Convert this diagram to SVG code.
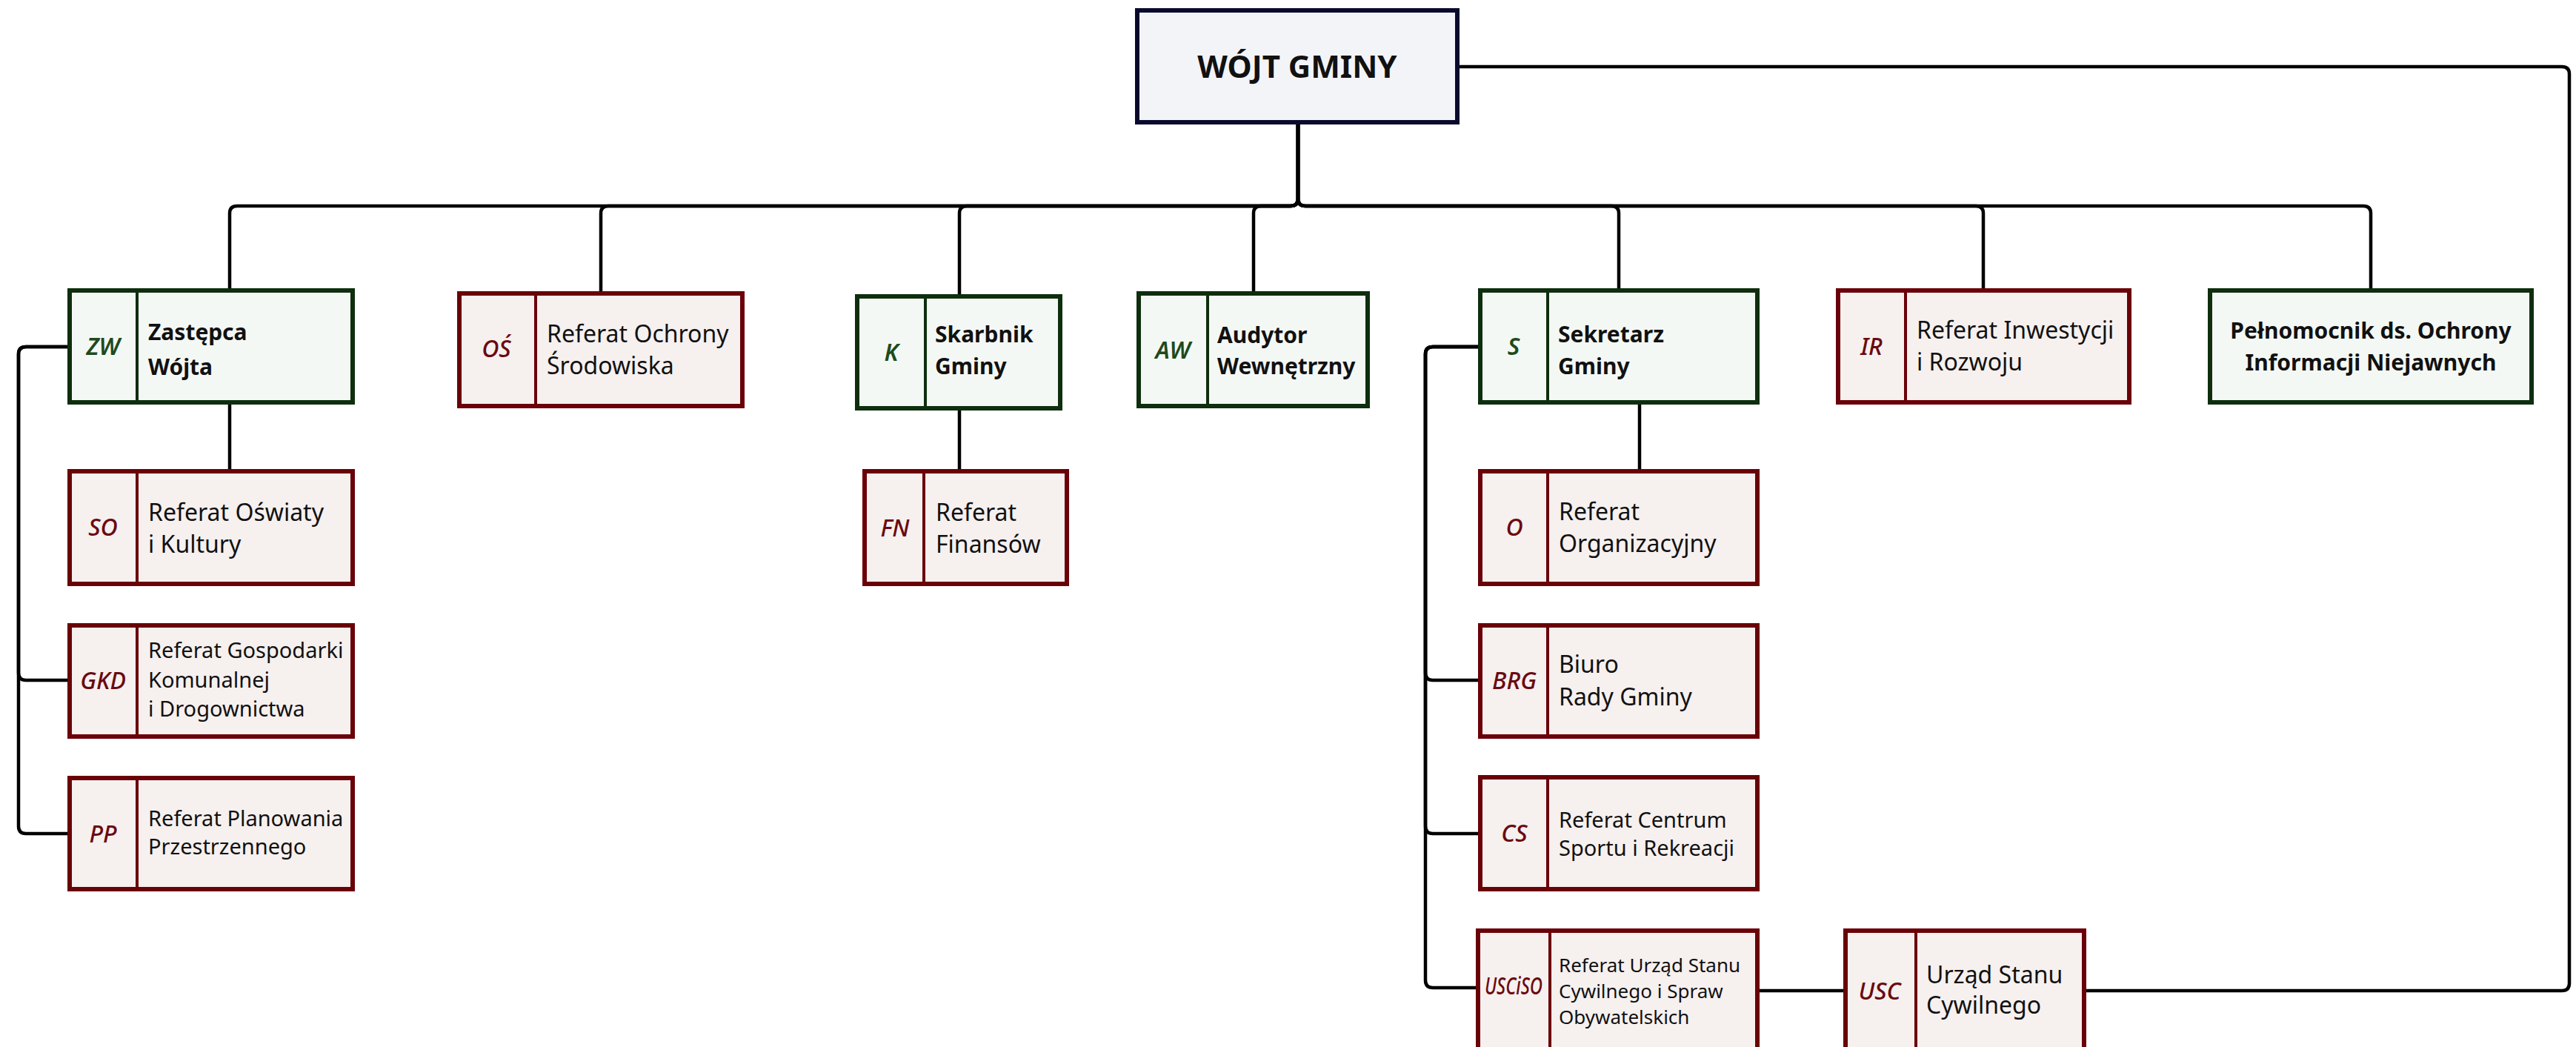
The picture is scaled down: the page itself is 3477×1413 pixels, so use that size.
<svg xmlns="http://www.w3.org/2000/svg" width="3477" height="1413" viewBox="0 0 3477 1413">
<style>
text{font-family:"Noto Sans","Liberation Sans",sans-serif;fill:#111}
.g{fill:#f4f8f4;stroke:#0e2e0e;stroke-width:6}
.r{fill:#f6f0ef;stroke:#6a0008;stroke-width:6}
.gd{stroke:#0e2e0e;stroke-width:4}
.rd{stroke:#6a0008;stroke-width:4}
.ga{fill:#1d4a1d;font-style:italic;font-weight:600;font-size:32px;text-anchor:middle}
.ra{fill:#6a0a10;font-style:italic;font-weight:500;font-size:32px;text-anchor:middle}
.b{font-weight:700;font-size:30px}
.n{font-size:32px}
.s{font-size:29px}
.c{fill:none;stroke:#000;stroke-width:4.5}
</style>
<g id="connectors">
<path class="c" d="M1752 168V268Q1752 278 1742 278H320Q310 278 310 288V389"/>
<path class="c" d="M1752 168V268Q1752 278 1742 278H821Q811 278 811 288V393"/>
<path class="c" d="M1752 168V268Q1752 278 1742 278H1305Q1295 278 1295 288V397"/>
<path class="c" d="M1752 168V268Q1752 278 1742 278H1702Q1692 278 1692 288V393"/>
<path class="c" d="M1752 168V268Q1752 278 1762 278H2175Q2185 278 2185 288V389"/>
<path class="c" d="M1752 168V268Q1752 278 1762 278H2667Q2677 278 2677 288V389"/>
<path class="c" d="M1752 168V268Q1752 278 1762 278H3190Q3200 278 3200 288V389"/>
<path class="c" d="M310 546V633"/>
<path class="c" d="M91 468H35Q25 468 25 478V908Q25 918 35 918H91"/>
<path class="c" d="M91 468H35Q25 468 25 478V1115Q25 1125 35 1125H91"/>
<path class="c" d="M1295 554V633"/>
<path class="c" d="M2213 546V633"/>
<path class="c" d="M1995 468H1934Q1924 468 1924 478V908Q1924 918 1934 918H1995"/>
<path class="c" d="M1995 468H1934Q1924 468 1924 478V1115Q1924 1125 1934 1125H1995"/>
<path class="c" d="M1995 468H1934Q1924 468 1924 478V1323Q1924 1333 1934 1333H1992"/>
<path class="c" d="M2375 1337H2488"/>
<path class="c" d="M1970 90H3458Q3468 90 3468 100V1327Q3468 1337 3458 1337H2816"/>
</g>
<g id="wojt">
<rect x="1535" y="14" width="432" height="151" fill="#f3f4f8" stroke="#0a0a2e" stroke-width="6"/>
<text x="1751" y="105" font-size="42" font-weight="700" text-anchor="middle">WÓJT GMINY</text>
</g>
<g id="zw">
<rect class="g" x="94" y="392" width="382" height="151"/>
<line class="gd" x1="185" y1="392" x2="185" y2="543"/>
<text class="ga" x="139" y="479">ZW</text>
<text class="b" x="200" y="459" font-size="33">Zastępca</text>
<text class="b" x="200" y="506" font-size="33">Wójta</text>
</g>
<g id="so">
<rect class="r" x="94" y="636" width="382" height="152"/>
<line class="rd" x1="185" y1="636" x2="185" y2="788"/>
<text class="ra" x="139" y="723">SO</text>
<text class="n" x="200" y="703">Referat Oświaty</text>
<text class="n" x="200" y="746">i Kultury</text>
</g>
<g id="gkd">
<rect class="r" x="94" y="844" width="382" height="150"/>
<line class="rd" x1="185" y1="844" x2="185" y2="994"/>
<text class="ra" x="139" y="930">GKD</text>
<text class="s" x="200" y="888">Referat Gospodarki</text>
<text class="s" x="200" y="928">Komunalnej</text>
<text class="s" x="200" y="967">i Drogownictwa</text>
</g>
<g id="pp">
<rect class="r" x="94" y="1050" width="382" height="150"/>
<line class="rd" x1="185" y1="1050" x2="185" y2="1200"/>
<text class="ra" x="139" y="1137">PP</text>
<text class="s" x="200" y="1115">Referat Planowania</text>
<text class="s" x="200" y="1153">Przestrzennego</text>
</g>
<g id="os">
<rect class="r" x="620" y="396" width="382" height="152"/>
<line class="rd" x1="723" y1="396" x2="723" y2="548"/>
<text class="ra" x="670" y="482" font-weight="700">OŚ</text>
<text class="n" x="738" y="462">Referat Ochrony</text>
<text class="n" x="738" y="505">Środowiska</text>
</g>
<g id="k">
<rect class="g" x="1157" y="400" width="274" height="151"/>
<line class="gd" x1="1249" y1="400" x2="1249" y2="551"/>
<text class="ga" x="1203" y="487">K</text>
<text class="b" x="1262" y="462">Skarbnik</text>
<text class="b" x="1262" y="505">Gminy</text>
</g>
<g id="fn">
<rect class="r" x="1167" y="636" width="273" height="152"/>
<line class="rd" x1="1247" y1="636" x2="1247" y2="788"/>
<text class="ra" x="1208" y="724">FN</text>
<text class="n" x="1263" y="703">Referat</text>
<text class="n" x="1263" y="746">Finansów</text>
</g>
<g id="aw">
<rect class="g" x="1537" y="396" width="309" height="152"/>
<line class="gd" x1="1630" y1="396" x2="1630" y2="548"/>
<text class="ga" x="1583" y="484">AW</text>
<text class="b" x="1643" y="463">Audytor</text>
<text class="b" x="1643" y="505">Wewnętrzny</text>
</g>
<g id="s">
<rect class="g" x="1998" y="392" width="374" height="151"/>
<line class="gd" x1="2089" y1="392" x2="2089" y2="543"/>
<text class="ga" x="2043" y="479">S</text>
<text class="b" x="2103" y="462">Sekretarz</text>
<text class="b" x="2103" y="505">Gminy</text>
</g>
<g id="o">
<rect class="r" x="1998" y="636" width="374" height="152"/>
<line class="rd" x1="2089" y1="636" x2="2089" y2="788"/>
<text class="ra" x="2044" y="723">O</text>
<text class="n" x="2104" y="702">Referat</text>
<text class="n" x="2104" y="745">Organizacyjny</text>
</g>
<g id="brg">
<rect class="r" x="1998" y="844" width="374" height="150"/>
<line class="rd" x1="2089" y1="844" x2="2089" y2="994"/>
<text class="ra" x="2044" y="930">BRG</text>
<text class="n" x="2104" y="908">Biuro</text>
<text class="n" x="2104" y="952">Rady Gminy</text>
</g>
<g id="cs">
<rect class="r" x="1998" y="1049" width="374" height="151"/>
<line class="rd" x1="2089" y1="1049" x2="2089" y2="1200"/>
<text class="ra" x="2044" y="1136">CS</text>
<text class="s" x="2104" y="1117">Referat Centrum</text>
<text class="s" x="2104" y="1155">Sportu i Rekreacji</text>
</g>
<g id="usciso">
<rect class="r" x="1995" y="1256" width="377" height="170"/>
<line class="rd" x1="2092" y1="1256" x2="2092" y2="1426"/>
<text class="ra" x="2043" y="1342" font-size="22" textLength="78" lengthAdjust="spacingAndGlyphs">USCiSO</text>
<text x="2104" y="1312" font-size="26">Referat Urząd Stanu</text>
<text x="2104" y="1347" font-size="26">Cywilnego i Spraw</text>
<text x="2104" y="1382" font-size="26">Obywatelskich</text>
</g>
<g id="ir">
<rect class="r" x="2481" y="392" width="393" height="151"/>
<line class="rd" x1="2572" y1="392" x2="2572" y2="543"/>
<text class="ra" x="2526" y="479" font-weight="600">IR</text>
<text class="n" x="2587" y="457">Referat Inwestycji</text>
<text class="n" x="2587" y="500">i Rozwoju</text>
</g>
<g id="pelnomocnik">
<rect class="g" x="2983" y="392" width="434" height="151"/>
<text class="b" x="3200" y="457" text-anchor="middle">Pełnomocnik ds. Ochrony</text>
<text class="b" x="3200" y="500" text-anchor="middle">Informacji Niejawnych</text>
</g>
<g id="usc">
<rect class="r" x="2491" y="1256" width="322" height="170"/>
<line class="rd" x1="2586" y1="1256" x2="2586" y2="1426"/>
<text class="ra" x="2537" y="1349">USC</text>
<text class="n" x="2600" y="1327">Urząd Stanu</text>
<text class="n" x="2600" y="1368">Cywilnego</text>
</g>
</svg>
